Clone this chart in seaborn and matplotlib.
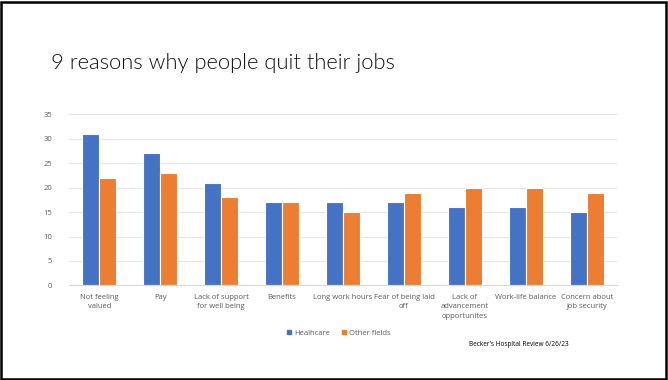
import matplotlib
matplotlib.use("Agg")
import matplotlib.pyplot as plt
import seaborn as sns
import pandas as pd
import numpy as np
from matplotlib.patches import Rectangle
from matplotlib.lines import Line2D

categories = ["Not feeling\nvalued", "Pay", "Lack of support\nfor well being", "Benefits",
              "Long work hours", "Fear of being laid\noff", "Lack of\nadvancement\nopportunites",
              "Work-life balance", "Concern about\njob security"]
healthcare = [31, 27, 21, 17, 17, 17, 16, 16, 15]
other_fields = [22, 23, 18, 17, 15, 19, 20, 20, 19]
series_names = ["Healhcare", "Other fields"]
yticks = [0, 5, 10, 15, 20, 25, 30, 35]
title = "9 reasons why people quit their jobs"
source = "Becker's Hospital Review 6/26/23"

colors = ["#4472C4", "#ED7D31"]
grey = "#595959"

df = pd.DataFrame({
    "category": categories * 2,
    "value": healthcare + other_fields,
    "series": [series_names[0]] * len(categories) + [series_names[1]] * len(categories),
})

sns.set_theme(style="white")
plt.rcParams['font.family'] = ['Open Sans', 'DejaVu Sans']

fig = plt.figure(figsize=(6.68, 3.80), dpi=100)
ax = fig.add_axes([0.103, 0.249, 0.821, 0.450])

sns.barplot(data=df, x="category", y="value", hue="series", order=categories,
            hue_order=series_names, palette=colors, width=0.56, ax=ax,
            edgecolor="white", linewidth=0.8, legend=False, saturation=1)

ax.set_ylim(0, 35)
ax.set_xlim(-0.5, len(categories) - 0.5)
ax.set_yticks(yticks)
ax.set_yticklabels([str(t) for t in yticks], fontsize=5.5, color=grey)
ax.set_xticklabels(categories, fontsize=5.5, color=grey, linespacing=1.5)
ax.tick_params(axis="x", which="major", length=0, pad=6)
ax.tick_params(axis="y", length=0, pad=12)
ax.set_xticks(np.arange(-0.5, len(categories), 1), minor=True)
ax.tick_params(axis="x", which="minor", length=3, color="#D9D9D9", width=0.8)
ax.set_xlabel("")
ax.set_ylabel("")
ax.yaxis.grid(True, color="#E6E6E6", linewidth=0.8)
ax.set_axisbelow(True)
for s in ["top", "right", "left"]:
    ax.spines[s].set_visible(False)
ax.spines["bottom"].set_color("#D9D9D9")
ax.spines["bottom"].set_linewidth(0.8)

handles = [Line2D([0], [0], marker="s", linestyle="none", markersize=3,
                  markerfacecolor=c, markeredgecolor=c) for c in colors]
fig.legend(handles, series_names, loc="center", bbox_to_anchor=(0.506, 0.124),
           ncol=2, frameon=False, fontsize=5.5, labelcolor=grey,
           handletextpad=0.2, columnspacing=1.2, handlelength=1)

fig.text(0.077, 0.834, title, fontsize=15.8, color="#111111", ha="left", va="center",
         family=["Lato", "DejaVu Sans"], fontweight=300)
fig.text(0.851, 0.093, source, fontsize=4.7, color="black", ha="right", va="center")

fig.add_artist(Rectangle((0.002, 0.003), 0.995, 0.993, transform=fig.transFigure,
                         fill=False, edgecolor="black", linewidth=1.8))

fig.savefig("out.png", dpi=100)
